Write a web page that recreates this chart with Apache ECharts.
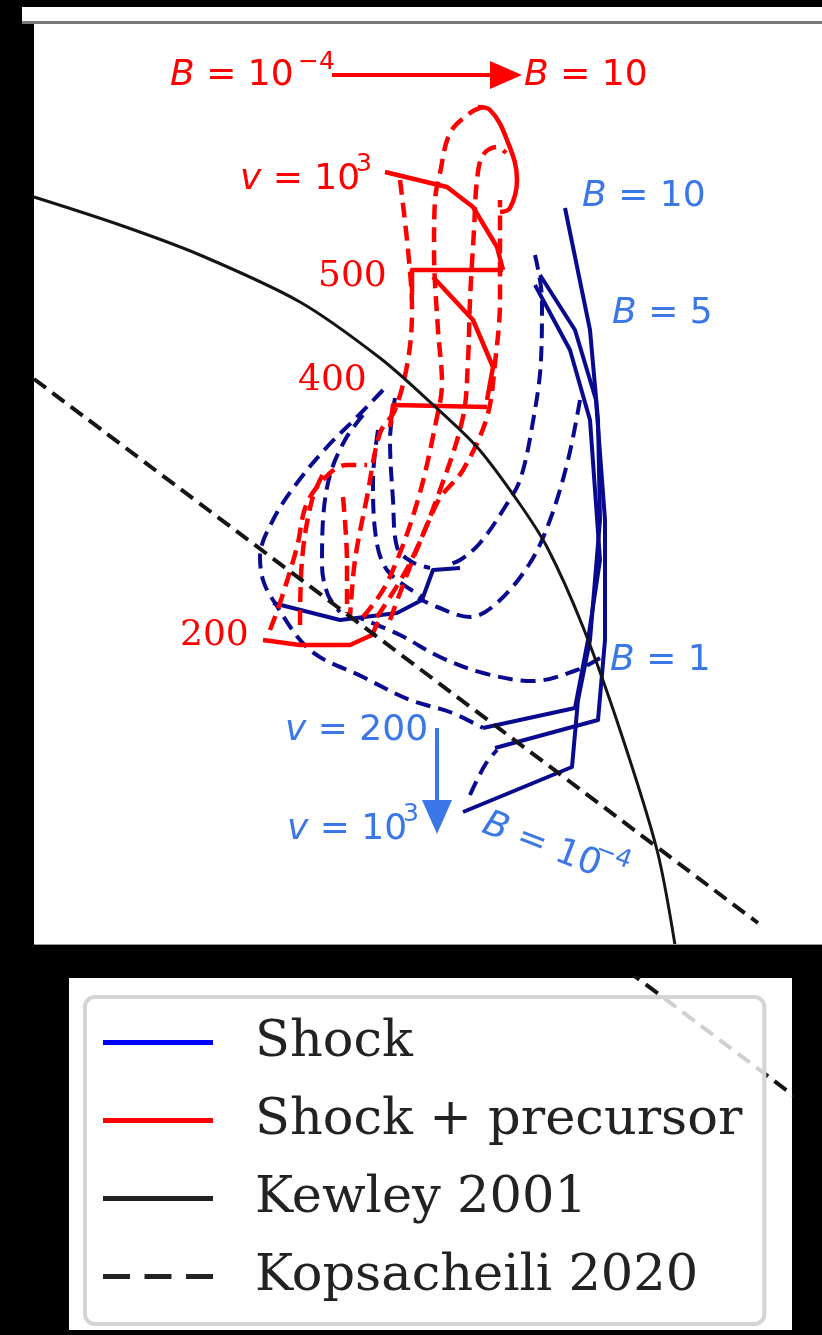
<!DOCTYPE html>
<html>
<head>
<meta charset="utf-8">
<script src="https://cdn.jsdelivr.net/npm/echarts@6/dist/echarts.min.js"></script>
<style>
  html, body { margin: 0; padding: 0; background: #000; }
  #chart { width: 822px; height: 1335px; }
</style>
</head>
<body>
<div id="chart"></div>
<script>
// ---- Reference lines (log-ratio plane) ----
const kewley2001 = [[-1.6,0.57],[-1.385,0.5],[-1.185,0.425],[-0.935,0.3075],[-0.735,0.1675],[-0.61,0.0575],[-0.4925,-0.055],[-0.3925,-0.1875],[-0.3175,-0.305],[-0.2275,-0.505],[-0.135,-0.7625],[-0.0425,-1.0625],[0.0025,-1.3]];
const kopsacheili2020 = [[-1.6,0.115],[0.21,-1.245]];

// ---- Shock + precursor grid: constant velocity (solid) ----
const precV1000 = [[-0.7225,0.6325],[-0.5675,0.595],[-0.5025,0.545],[-0.4425,0.445],[-0.4275,0.3875]];
const precTop = [[-0.49,0.795],[-0.46,0.7875],[-0.4175,0.7125],[-0.3925,0.6125],[-0.41,0.5425],[-0.435,0.5325]];
const precV500 = [[-0.655,0.325],[-0.655,0.3875],[-0.4275,0.3875]];
const precMid = [[-0.6025,0.37],[-0.5025,0.2625],[-0.4525,0.145],[-0.4675,0.0625]];
const precV400 = [[-0.71,-0.005],[-0.7025,0.05],[-0.4675,0.045]];
const precV200 = [[-1.0275,-0.5375],[-0.935,-0.55],[-0.81,-0.55],[-0.755,-0.525],[-0.74,-0.4925]];

// ---- Shock + precursor grid: constant magnetic field (dashed) ----
const precB1 = [[-1.01,-0.5125],[-0.985,-0.445],[-0.9425,-0.305],[-0.9175,-0.195],[-0.86,-0.12],[-0.8175,-0.1],[-0.7675,-0.1]];
const precB2 = [[-0.935,-0.5],[-0.93,-0.3375],[-0.905,-0.1875],[-0.8725,-0.1125]];
const precB3 = [[-0.8275,-0.18],[-0.8175,-0.345],[-0.8175,-0.47]];
const precB4 = [[-0.685,0.6125],[-0.665,0.4375],[-0.655,0.2875],[-0.665,0.1625],[-0.6975,0.0375],[-0.735,-0.02],[-0.7675,-0.18],[-0.7975,-0.3375],[-0.81,-0.48]];
const precB5 = [[-0.7775,-0.48],[-0.7175,-0.395],[-0.6425,-0.195],[-0.5925,0.02],[-0.58,0.105],[-0.59,0.2375],[-0.6,0.4375],[-0.5975,0.5625],[-0.585,0.63],[-0.56,0.73],[-0.51,0.78],[-0.4775,0.795]];
const precB6 = [[-0.7425,-0.48],[-0.66,-0.345],[-0.585,-0.1625],[-0.5275,0.02],[-0.515,0.1625],[-0.51,0.3125],[-0.5,0.4875],[-0.4925,0.6125],[-0.4775,0.675],[-0.4425,0.695],[-0.42,0.68]];
const precB7 = [[-0.71,-0.4875],[-0.5925,-0.195],[-0.5275,-0.1125],[-0.4675,0.02],[-0.4475,0.155],[-0.435,0.3125],[-0.435,0.5625]];

// ---- Shock-only grid: constant velocity (solid) ----
const shockV1 = [[-0.5275,-0.9675],[-0.255,-0.855],[-0.24,-0.6875],[-0.21,-0.5375],[-0.185,-0.2375],[-0.19,0.0125],[-0.21,0.2375],[-0.2725,0.5425]];
const shockV2 = [[-0.4475,-0.8075],[-0.19,-0.7375],[-0.1725,-0.5375],[-0.1725,-0.2375],[-0.195,0.0625],[-0.2475,0.2375],[-0.335,0.375]];
const shockV3 = [[-0.4775,-0.7575],[-0.2475,-0.7075],[-0.215,-0.5375],[-0.185,-0.3375],[-0.21,0.0125],[-0.26,0.1875],[-0.3475,0.35]];
const shockV4 = [[-1.0025,-0.445],[-0.835,-0.4875],[-0.6925,-0.47],[-0.63,-0.4375],[-0.6025,-0.3625],[-0.535,-0.3575]];

// ---- Shock-only grid: constant magnetic field (dashed) ----
const shockB1 = [[-0.7275,0.0875],[-0.7925,0.02],[-0.8675,-0.055],[-0.9425,-0.145],[-1.0025,-0.2375],[-1.035,-0.33],[-1.0275,-0.3875],[-1.0025,-0.4375],[-0.91,-0.5625],[-0.7775,-0.63],[-0.66,-0.6875],[-0.56,-0.7175],[-0.4775,-0.7575]];
const shockB2 = [[-0.3475,0.425],[-0.33,0.3125],[-0.3325,0.1625],[-0.355,-0.005],[-0.385,-0.1375],[-0.4225,-0.205],[-0.485,-0.295],[-0.535,-0.3375],[-0.5725,-0.3525]];
const shockB3 = [[-0.235,0.0625],[-0.265,-0.0875],[-0.31,-0.2375],[-0.36,-0.345],[-0.4425,-0.445],[-0.51,-0.48],[-0.5925,-0.455],[-0.64,-0.4325]];
const shockB4 = [[-0.185,-0.5825],[-0.2425,-0.6125],[-0.3525,-0.64],[-0.4775,-0.62],[-0.585,-0.58],[-0.685,-0.525],[-0.785,-0.4825]];
const shockB5 = [[-0.7775,0.025],[-0.8225,-0.0375],[-0.86,-0.125],[-0.8775,-0.2375],[-0.88,-0.35],[-0.865,-0.425],[-0.835,-0.4675]];
const shockB6 = [[-0.6975,0.0675],[-0.71,-0.0375],[-0.7025,-0.1875],[-0.6925,-0.305],[-0.655,-0.3425],[-0.61,-0.3575]];
const shockB7 = [[-0.51,-0.925],[-0.4725,-0.85],[-0.4425,-0.8125]];
const shockB8 = [[-0.74,-0.0125],[-0.7525,-0.1375],[-0.7475,-0.2625],[-0.7175,-0.3625],[-0.6275,-0.43]];

const legendNames = ['Shock', 'Shock + precursor', 'Kewley 2001', 'Kopsacheili 2020'];

const RED = '#ff0000', NAVY = '#0a0a90', BLACK = '#151515';
const LBLUE = '#3b77e6';
const DASH = [15, 8];

function curve(data, color, dashed, width, z, grid, smooth) {
  return {
    type: 'line', data: data, symbol: 'none', silent: true, animation: false,
    xAxisIndex: grid || 0, yAxisIndex: grid || 0, z: z || 3,
    smooth: smooth === undefined ? (dashed ? 0.35 : 0) : smooth,
    lineStyle: { color: color, width: width || 4, type: dashed ? DASH : 'solid', cap: 'butt', join: 'round' }
  };
}

const series = [];
[shockB1, shockB2, shockB3, shockB4, shockB5, shockB6, shockB7, shockB8].forEach(d => series.push(curve(d, NAVY, true, 4, 3)));
[shockV1, shockV2, shockV3, shockV4].forEach(d => series.push(curve(d, NAVY, false, 4, 3)));
[precB1, precB2, precB3, precB4, precB5, precB6, precB7].forEach(d => series.push(curve(d, RED, true, 4.5, 4)));
[precV1000, precV500, precMid, precV400, precV200].forEach(d => series.push(curve(d, RED, false, 4.5, 4)));
series.push(curve(precTop, RED, false, 4.5, 4, 0, 0.4));
series.push(curve(kewley2001, BLACK, false, 3, 5, 0, 0.3));
series.push(curve(kopsacheili2020, BLACK, true, 4, 5));
// same dividing line seen again in the lower strip behind the legend
series.push(curve(kopsacheili2020, BLACK, true, 4, 2, 1));

// legend-only entries
const legendColors = ['#0000ff', '#ff0000', '#222222', '#222222'];
const solidIcon = 'path://M0,0h110v5h-110z';
const dashIcon = 'path://M0,0h26v5h-26z M40,0h26v5h-26z M80,0h26v5h-26z';
legendNames.forEach((n, i) => series.push({
  type: 'line', name: n, data: [], symbol: 'none', xAxisIndex: 1, yAxisIndex: 1,
  color: legendColors[i], lineStyle: { color: legendColors[i], width: 5 }
}));

function mathLabel(x, y, txt, color, size, extra) {
  return Object.assign({
    type: 'text', x: x, y: y, z: 20, silent: true,
    style: {
      text: txt, fill: color, fontFamily: 'DejaVu Sans', fontSize: size || 36,
      verticalAlign: 'middle', align: 'left',
      rich: { i: { fontStyle: 'italic', fontFamily: 'DejaVu Sans', fontSize: size || 36, fill: color } }
    }
  }, extra || {});
}
function serifLabel(x, y, txt, color) {
  return { type: 'text', x: x, y: y, z: 20, silent: true,
    style: { text: txt, fill: color, fontFamily: 'DejaVu Serif', fontSize: 36, verticalAlign: 'middle' } };
}

const graphic = [
  // white panels
  { type: 'rect', shape: { x: 34, y: 7, width: 788, height: 938 }, style: { fill: '#fff' }, z: -10, silent: true },
  { type: 'rect', shape: { x: 22, y: 7, width: 12, height: 17 }, style: { fill: '#fff' }, z: -10, silent: true },
  { type: 'rect', shape: { x: 69, y: 978, width: 723, height: 352 }, style: { fill: '#fff' }, z: -10, silent: true },
  { type: 'rect', shape: { x: 22, y: 21, width: 800, height: 3 }, style: { fill: '#7a7a7a' }, z: 30, silent: true },
  { type: 'rect', shape: { x: 34, y: 944, width: 788, height: 1 }, style: { fill: '#999' }, z: 30, silent: true },

  // red annotations
  mathLabel(170, 76, '{i|B} = 10', RED),
  mathLabel(298, 62, '\u22124', RED, 25),
  { type: 'line', shape: { x1: 332, y1: 75, x2: 494, y2: 75 }, style: { stroke: RED, lineWidth: 4 }, z: 20, silent: true },
  { type: 'polygon', shape: { points: [[490, 61], [522, 75], [490, 89]] }, style: { fill: RED }, z: 20, silent: true },
  mathLabel(524, 76, '{i|B} = 10', RED),
  mathLabel(240, 180, '{i|v} = 10', RED),
  mathLabel(356, 164, '3', RED, 25),
  serifLabel(318, 277, '500', RED),
  serifLabel(298, 381, '400', RED),
  serifLabel(180, 636, '200', RED),

  // blue annotations
  mathLabel(582, 197, '{i|B} = 10', LBLUE),
  mathLabel(612, 314, '{i|B} = 5', LBLUE),
  mathLabel(610, 661, '{i|B} = 1', LBLUE),
  mathLabel(285, 731, '{i|v} = 200', LBLUE),
  mathLabel(287, 830, '{i|v} = 10', LBLUE),
  mathLabel(403, 814, '3', LBLUE, 25),
  { type: 'line', shape: { x1: 437, y1: 728, x2: 437, y2: 806 }, style: { stroke: LBLUE, lineWidth: 4 }, z: 20, silent: true },
  { type: 'polygon', shape: { points: [[422, 800], [437, 834], [452, 800]] }, style: { fill: LBLUE }, z: 20, silent: true },
  mathLabel(0, 0, '{i|B} = 10', LBLUE, 36, { x: 484, y: 823, rotation: -0.37 }),
  mathLabel(0, 0, '\u22124', LBLUE, 25, { x: 596, y: 849, rotation: -0.37 })
];

const chart = echarts.init(document.getElementById('chart'), null, { renderer: 'canvas' });
chart.setOption({
  backgroundColor: '#000',
  animation: false,
  grid: [
    { left: 34, right: 0, top: 25, bottom: 390 },
    { left: 69, right: 30, top: 978, bottom: 5 }
  ],
  xAxis: [
    { type: 'value', min: -1.6, max: 0.37, show: false, gridIndex: 0 },
    { type: 'value', min: -1.6625, max: 0.145, show: false, gridIndex: 1 }
  ],
  yAxis: [
    { type: 'value', min: -1.3, max: 1.0, show: false, gridIndex: 0 },
    { type: 'value', min: -1.7855, max: -0.9055, show: false, gridIndex: 1 }
  ],
  legend: {
    orient: 'vertical', left: 85, top: 997, selectedMode: false,
    data: legendNames.map((n, i) => ({ name: n, icon: i === 3 ? dashIcon : solidIcon })),
    itemWidth: 110, itemHeight: 20, itemGap: 27,
    padding: [20, 22, 22, 18],
    backgroundColor: 'rgba(255,255,255,0.8)', borderColor: '#d4d4d4', borderWidth: 4, borderRadius: 10,
    textStyle: { fontFamily: 'DejaVu Serif', fontSize: 51, color: '#222', lineHeight: 50, padding: [0, 0, 0, 37] }
  },
  series: series,
  graphic: graphic
});
</script>
</body>
</html>
